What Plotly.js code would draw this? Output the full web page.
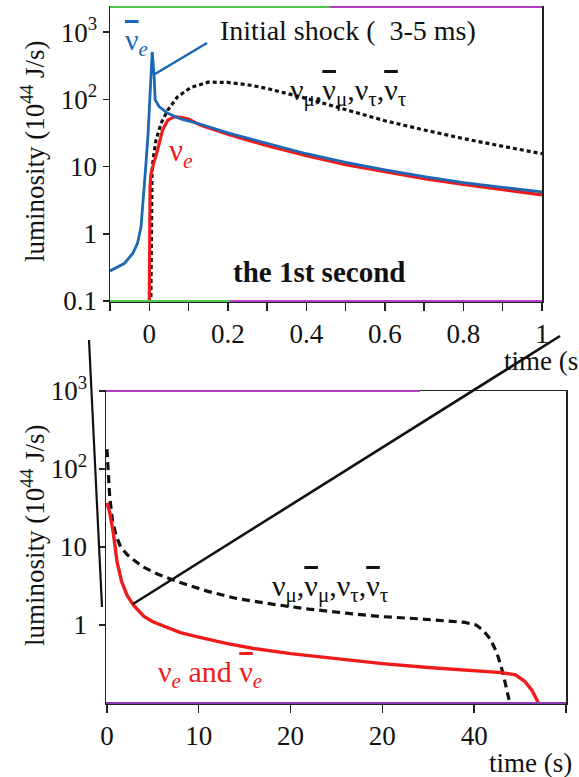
<!DOCTYPE html>
<html><head><meta charset="utf-8">
<script src="https://cdn.plot.ly/plotly-3.0.1.min.js"></script>
<style>html,body{margin:0;padding:0;background:#fff;overflow:hidden}</style>
</head><body><div id="chart" style="width:579px;height:777px"></div>
<script>
// ---------- data: top panel (the 1st second) ----------
const topAntiNueT = [-0.1, -0.064, -0.042, -0.03, -0.021, -0.015, -0.009, -0.003, 0.002, 0.006, 0.0075, 0.0125, 0.015, 0.025, 0.047, 0.08, 0.131, 0.2, 0.3, 0.4, 0.5, 0.6, 0.7, 0.8, 0.9, 1.0];
const topAntiNueL = [0.28, 0.36, 0.51, 0.72, 1.27, 3.2, 10, 31, 122, 480, 510, 215, 98, 78, 62, 51, 42.6, 31.6, 21.9, 15.5, 11.5, 8.9, 7.1, 5.75, 4.9, 4.2];
const topNueT = [0, 0.0005, 0.001, 0.002, 0.004, 0.008, 0.021, 0.034, 0.047, 0.063, 0.08, 0.1, 0.131, 0.2, 0.3, 0.4, 0.5, 0.6, 0.7, 0.8, 0.9, 1.0];
const topNueL = [0.09, 0.5, 2, 5, 7.5, 9.5, 17.5, 35, 49, 55, 54, 51, 41, 30.2, 20.4, 14.5, 10.7, 8.3, 6.6, 5.4, 4.5, 3.8];
const topNuxT = [0.004, 0.005, 0.007, 0.01, 0.017, 0.03, 0.047, 0.072, 0.106, 0.15, 0.2, 0.25, 0.3, 0.4, 0.5, 0.6, 0.7, 0.8, 0.9, 1.0];
const topNuxL = [0.09, 3, 8, 13, 24.5, 44, 69, 109, 150, 180, 178, 165, 145, 103, 70, 48, 35, 26, 20, 15.5];
const topXTicks = [0, 0.2, 0.4, 0.6, 0.8, 1];
const topXTickText = ["0", "0.2", "0.4", "0.6", "0.8", "1"];
const topYTicks = [0.1, 1, 10, 100, 1000];
const topYTickText = ["0.1", "1", "10", "10<sup>2</sup>", "10<sup>3</sup>"];

// ---------- data: bottom panel (50 s) ----------
const botNueT = [0, 0.3, 0.7, 1.1, 1.6, 2.2, 2.9, 4, 5, 6.5, 8, 10, 13, 16, 20, 25, 30, 35, 40, 43, 44.5, 45.5, 46.3, 47];
const botNueL = [37, 28, 15, 6.5, 3.6, 2.4, 1.8, 1.3, 1.1, 0.95, 0.8, 0.7, 0.58, 0.5, 0.43, 0.37, 0.32, 0.285, 0.26, 0.245, 0.23, 0.19, 0.145, 0.1];
const botNuxT = [0, 0.1, 0.3, 0.6, 1.0, 1.5, 2.2, 3, 4, 5.5, 8, 11, 14, 18, 22, 26, 30, 34, 37, 39, 40.2, 41, 41.8, 42.5, 43.1, 43.8];
const botNuxL = [180, 110, 45, 22, 14, 10, 8, 6.7, 5.5, 4.5, 3.5, 2.7, 2.2, 1.85, 1.6, 1.42, 1.28, 1.2, 1.13, 1.08, 1.0, 0.85, 0.65, 0.43, 0.25, 0.11];
const botXTicks = [0, 10, 20, 30, 40, 50];
const botXTickText = ["0", "10", "20", "20", "40", "50"];
const botYTicks = [1, 10, 100, 1000];
const botYTickText = ["1", "10", "10<sup>2</sup>", "10<sup>3</sup>"];

// ---------- styling ----------
const W = 579, H = 777;
const FONT = "Liberation Serif";
const BLUE = "#1c68b4", RED = "#f01c1c", BLACK = "#111";
const px = v => v / W, py = v => 1 - v / H;
const BAR = '<span style="text-decoration:overline">ν</span>';

const traces = [
  {x: topNuxT, y: topNuxL, xaxis: "x", yaxis: "y", mode: "lines", line: {color: BLACK, width: 3.2, dash: "4px,3px"}},
  {x: topNueT, y: topNueL, xaxis: "x", yaxis: "y", mode: "lines", line: {color: RED, width: 3.2}},
  {x: topAntiNueT, y: topAntiNueL, xaxis: "x", yaxis: "y", mode: "lines", line: {color: BLUE, width: 2.8}},
  {x: botNuxT, y: botNuxL, xaxis: "x2", yaxis: "y2", mode: "lines", line: {color: BLACK, width: 3.2, dash: "8px,5px"}},
  {x: botNueT, y: botNueL, xaxis: "x2", yaxis: "y2", mode: "lines", line: {color: RED, width: 3.4}}
];

const axisCommon = {
  showgrid: false, zeroline: false, showline: true, linecolor: "#222", linewidth: 1.5,
  mirror: true, ticks: "outside", tickcolor: "#222", tickwidth: 1.5,
  tickfont: {family: FONT, size: 27, color: "#111"}, fixedrange: true
};

const layout = {
  width: W, height: H, margin: {l: 0, r: 0, t: 0, b: 0},
  font: {family: FONT},
  paper_bgcolor: "#fff", plot_bgcolor: "#fff", showlegend: false,
  xaxis: Object.assign({}, axisCommon, {
    domain: [px(110), px(542)], range: [-0.1, 1], tickmode: "array",
    tickvals: topXTicks, ticktext: topXTickText, ticklen: 8, anchor: "y",
    minor: {dtick: 0.1, tick0: 0, ticks: "outside", ticklen: 8, tickcolor: "#222", tickwidth: 1.5}
  }),
  yaxis: Object.assign({}, axisCommon, {
    domain: [py(301), py(7)], type: "log", range: [-1, 3.373], tickmode: "array",
    tickvals: topYTicks, ticktext: topYTickText, ticklen: 6, anchor: "x"
  }),
  xaxis2: Object.assign({}, axisCommon, {
    domain: [px(106), px(566)], range: [-0.1, 50], tickmode: "array",
    tickvals: botXTicks, ticktext: botXTickText, ticklen: 8, anchor: "y2"
  }),
  yaxis2: Object.assign({}, axisCommon, {
    domain: [py(703), py(391)], type: "log", range: [-1, 3], tickmode: "array",
    tickvals: botYTicks, ticktext: botYTickText, ticklen: 6, ticklabelstandoff: 6, anchor: "x2"
  }),
  shapes: [
    {type: "line", xref: "paper", yref: "paper", x0: px(110), x1: px(330), y0: py(7), y1: py(7), line: {color: "#4cc84c", width: 2}},
    {type: "line", xref: "paper", yref: "paper", x0: px(330), x1: px(542), y0: py(7), y1: py(7), line: {color: "#b040c0", width: 2}},
    {type: "line", xref: "paper", yref: "paper", x0: px(110), x1: px(230), y0: py(301), y1: py(301), line: {color: "#4cc84c", width: 2}},
    {type: "line", xref: "paper", yref: "paper", x0: px(230), x1: px(542), y0: py(301), y1: py(301), line: {color: "#b040c0", width: 2}},
    {type: "line", xref: "paper", yref: "paper", x0: px(106), x1: px(420), y0: py(391), y1: py(391), line: {color: "#b040c0", width: 2}},
    {type: "line", xref: "paper", yref: "paper", x0: px(106), x1: px(566), y0: py(703), y1: py(703), line: {color: "#8a3cb4", width: 2}},
    {type: "line", xref: "paper", yref: "paper", x0: px(155), y0: py(74), x1: px(207), y1: py(43), line: {color: BLUE, width: 2.6}},
    {type: "line", xref: "paper", yref: "paper", x0: px(133), y0: py(604), x1: px(560), y1: py(336), line: {color: BLACK, width: 2.6}},
    {type: "line", xref: "paper", yref: "paper", x0: px(89), y0: py(340), x1: px(102), y1: py(607), line: {color: BLACK, width: 2.2}}
  ],
  annotations: [
    {xref: "paper", yref: "paper", x: px(33), y: py(152), text: "luminosity (10<sup>44</sup> J/s)", textangle: -90, showarrow: false, font: {family: FONT, size: 27, color: "#111"}, xanchor: "center", yanchor: "middle"},
    {xref: "paper", yref: "paper", x: px(33), y: py(536), text: "luminosity (10<sup>44</sup> J/s)", textangle: -90, showarrow: false, font: {family: FONT, size: 27, color: "#111"}, xanchor: "center", yanchor: "middle"},
    {xref: "paper", yref: "paper", x: px(348), y: py(31), text: "Initial shock (  3-5 ms)", showarrow: false, font: {family: FONT, size: 28, color: "#111"}, xanchor: "center", yanchor: "middle"},
    {xref: "paper", yref: "paper", x: px(136), y: py(42), text: BAR + "<sub><i>e</i></sub>", showarrow: false, font: {family: FONT, size: 30, color: BLUE}, xanchor: "center", yanchor: "middle"},
    {xref: "paper", yref: "paper", x: px(181), y: py(153), text: "ν<sub><i>e</i></sub>", showarrow: false, font: {family: FONT, size: 31, color: RED}, xanchor: "center", yanchor: "middle"},
    {xref: "paper", yref: "paper", x: px(348), y: py(92), text: "ν<sub>μ</sub>," + BAR + "<sub>μ</sub>,ν<sub>τ</sub>," + BAR + "<sub>τ</sub>", showarrow: false, font: {family: FONT, size: 30, color: "#111"}, xanchor: "center", yanchor: "middle"},
    {xref: "paper", yref: "paper", x: px(319), y: py(272), text: "<b>the 1st second</b>", showarrow: false, font: {family: FONT, size: 29, color: "#111"}, xanchor: "center", yanchor: "middle"},
    {xref: "paper", yref: "paper", x: px(502), y: py(361), text: "time (s)", showarrow: false, font: {family: FONT, size: 27, color: "#111"}, xanchor: "left", yanchor: "middle"},
    {xref: "paper", yref: "paper", x: px(330), y: py(588), text: "ν<sub>μ</sub>," + BAR + "<sub>μ</sub>,ν<sub>τ</sub>," + BAR + "<sub>τ</sub>", showarrow: false, font: {family: FONT, size: 30, color: "#111"}, xanchor: "center", yanchor: "middle"},
    {xref: "paper", yref: "paper", x: px(210), y: py(674), text: "ν<sub><i>e</i></sub> and " + BAR + "<sub><i>e</i></sub>", showarrow: false, font: {family: FONT, size: 30, color: RED}, xanchor: "center", yanchor: "middle"},
    {xref: "paper", yref: "paper", x: px(487), y: py(763), text: "time (s)", showarrow: false, font: {family: FONT, size: 27, color: "#111"}, xanchor: "left", yanchor: "middle"}
  ]
};

Plotly.newPlot("chart", traces, layout, {staticPlot: true, displayModeBar: false});
</script>
</body></html>
